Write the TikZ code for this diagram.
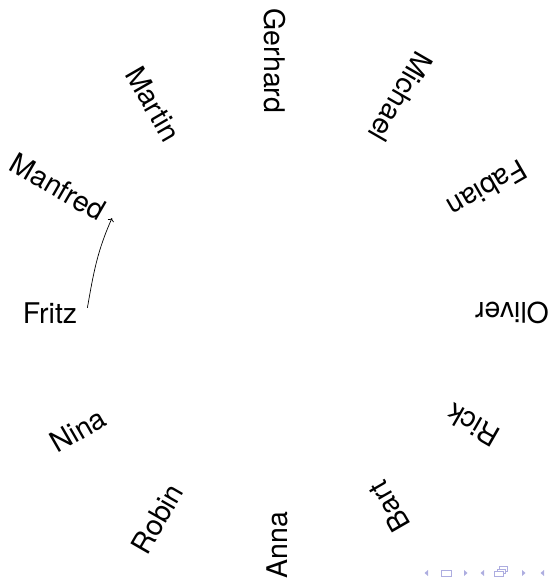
\documentclass[tikz,border=0pt]{standalone}
\usepackage{fontspec}
\setmainfont{TeX Gyre Heros}
\usetikzlibrary{arrows.meta}
\definecolor{navc}{RGB}{173,173,224}
\begin{document}
\begin{tikzpicture}[x=1pt,y=1pt,
  person/.style={inner sep=10pt,font=\fontsize{28.5}{34}\selectfont},
  navtri/.style={fill=navc,draw=none},
  navbox/.style={draw=navc,line width=0.9pt,fill=white}]
\useasboundingbox (0,0) rectangle (553,581);
\node[person] (Fritz)   at (50,268)  {Fritz};
\node[person,rotate=-30] (Manfred) at (58,394) {Manfred};
\node[person,rotate=-60] (Martin)  at (153,477) {Martin};
\node[person,rotate=-90] (Gerhard) at (275,520) {Gerhard};
\node[person,rotate=-120] (Michael) at (401,484) {Michael};
\node[person,rotate=-150] (Fabian) at (487,392) {Fabian};
\node[person,rotate=180] (Oliver) at (512,268) {Oliver};
\node[person,rotate=150] (Rick) at (473,156) {Rick};
\node[person,rotate=120] (Bart) at (389,74) {Bart};
\node[person,rotate=90] (Anna) at (277,36) {Anna};
\node[person,rotate=60] (Robin) at (157,62) {Robin};
\node[person,rotate=30] (Nina) at (78,151) {Nina};
\draw[->,line width=0.7pt] (Fritz.8) to[out=80,in=246] (Manfred.east);
% navigation symbols
\fill[navtri] (428,11) -- (428,5) -- (424.5,8) -- cycle;
\draw[navbox] (441.5,5) rectangle (451.5,11);
\fill[navtri] (464,11) -- (464,5) -- (467.5,8) -- cycle;
\fill[navtri] (484,11) -- (484,5) -- (480.5,8) -- cycle;
\draw[navbox] (499,10) rectangle (507.5,14.5);
\draw[navbox] (497,7.5) rectangle (505.5,12);
\draw[navbox] (494.5,4.5) rectangle (503,9.5);
\fill[navtri] (522,11) -- (522,5) -- (525.5,8) -- cycle;
\fill[navtri] (544,11) -- (544,5) -- (540.5,8) -- cycle;
\end{tikzpicture}
\end{document}
